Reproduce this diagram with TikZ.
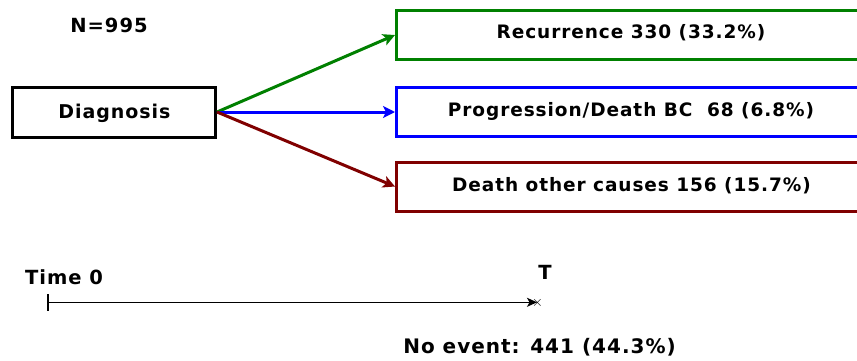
\documentclass[tikz,border=0pt]{standalone}
\usepackage{fontspec}
\setmainfont{DejaVu Sans}[LetterSpace=5]
\usetikzlibrary{arrows.meta}
\definecolor{cgreen}{RGB}{0,128,0}
\definecolor{cblue}{RGB}{0,0,255}
\definecolor{cred}{RGB}{128,0,0}
\tikzset{
  box/.style={draw, line width=3pt, minimum height=49pt, inner sep=0pt},
  conn/.style={line width=3pt, -{Stealth[length=12pt,width=12pt,inset=3pt]}},
  txt/.style={font=\fontsize{18.5}{20}\selectfont\bfseries, inner sep=0pt, anchor=base},
  big/.style={font=\fontsize{19.5}{21}\selectfont\bfseries, inner sep=0pt, anchor=base},
}
\begin{document}
\begin{tikzpicture}[x=1pt,y=-1pt]
\useasboundingbox (0,0) rectangle (857,360);
\clip (0,0) rectangle (857,360);
\node[big] (N) at (109,32) {N=995};
\node[box, draw=black, minimum width=203pt, minimum height=50pt] (diag) at (114,112) {};
\node[txt, font=\fontsize{19}{21}\selectfont\bfseries] (diagt) at (114.5,118) {Diagnosis};
\node[box, draw=cgreen, minimum width=470pt, anchor=west] (rec) at (395,35) {};
\node[txt] (rect) at (631,38) {Recurrence 330 (33.2\%)};
\node[box, draw=cblue, minimum width=470pt, anchor=west] (prog) at (395,112) {};
\node[txt] (progt) at (631,116.5) {Progression/Death BC\ \ 68 (6.8\%)};
\node[box, draw=cred, minimum width=470pt, anchor=west] (dth) at (395,186.5) {};
\node[txt] (dtht) at (631.5,191) {Death other causes 156 (15.7\%)};
\draw[conn, cgreen] (diag.east) -- (rec.west);
\draw[conn, cblue] (diag.east) -- (prog.west);
\draw[conn, cred] (diag.east) -- (dth.west);
\node[big] (t0) at (64,284) {Time 0};
\node[big] (T) at (545,279) {T};
\coordinate (a) at (47.3,302.3);
\coordinate (b) at (537,302.3);
\draw[line width=1.3pt, {Bar[width=17pt]}-{Stealth[length=10pt,width=9pt,inset=2.5pt]}] (a) -- (b);
\node[font=\fontsize{15}{15}\selectfont, inner sep=0pt] (x) at (537.5,303) {$\times$};
\node[big, font=\fontsize{20}{22}\selectfont\bfseries] (ne) at (539.5,353) {No event: 441 (44.3\%)};
\end{tikzpicture}
\end{document}
